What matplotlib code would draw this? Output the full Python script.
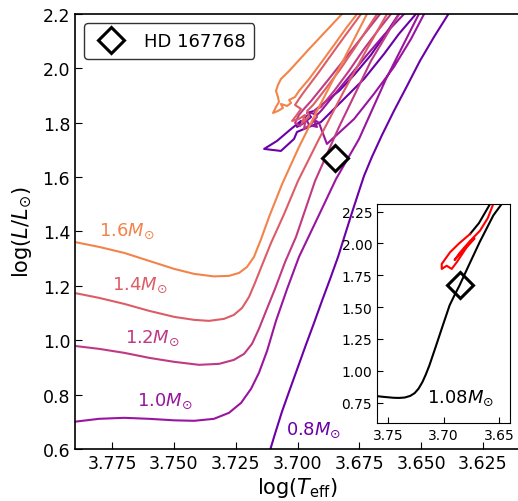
import numpy as np
import matplotlib.pyplot as plt
from matplotlib.lines import Line2D

# evolutionary tracks, log Teff / log L
# (RGB up past the top edge, then He-flash descent, clump, AGB back up)
masses = [0.8, 1.0, 1.2, 1.4, 1.6]

teff_08 = [3.7119, 3.7091, 3.7063, 3.7030, 3.6998, 3.6966, 3.6933, 3.6901, 3.6868, 3.6836, 3.6808,
           3.6780, 3.6755, 3.6731, 3.6699, 3.6658, 3.6610, 3.6557, 3.6505, 3.6448, 3.6387, 3.6347,
           3.6468, 3.6521, 3.6590, 3.6650, 3.6731, 3.6812, 3.6905, 3.7002, 3.7014, 3.7067, 3.7135,
           3.7083, 3.7026, 3.6986, 3.7002, 3.6974, 3.6945, 3.6961, 3.6933, 3.6893, 3.6832, 3.6771,
           3.6703, 3.6630, 3.6590, 3.6529]
logl_08 = [0.5713, 0.6559, 0.7368, 0.8213, 0.9022, 0.9831, 1.0640, 1.1449, 1.2257, 1.3066, 1.3875,
           1.4684, 1.5382, 1.6044, 1.6743, 1.7551, 1.8434, 1.9353, 2.0272, 2.1154, 2.2037, 2.2919,
           2.3287, 2.2000, 2.1265, 2.0529, 1.9610, 1.8875, 1.8029, 1.7662, 1.7404, 1.6963, 1.7037,
           1.7331, 1.7772, 1.8066, 1.7846, 1.7993, 1.8213, 1.8360, 1.8434, 1.8728, 1.9169, 1.9757,
           2.0493, 2.1449, 2.2000, 2.2919]

teff_10 = [3.7904, 3.7803, 3.7701, 3.7600, 3.7499, 3.7418, 3.7338, 3.7277, 3.7228, 3.7188, 3.7156,
           3.7123, 3.7087, 3.7042, 3.6994, 3.6913, 3.6844, 3.6751, 3.6642, 3.6509, 3.6476,
           3.6408, 3.6488, 3.6541, 3.6610, 3.6691, 3.6771, 3.6881, 3.6901, 3.6913, 3.6937, 3.6921,
           3.6953, 3.6970, 3.6945, 3.6921, 3.6905, 3.6852, 3.6792, 3.6719, 3.6650, 3.6569, 3.6488]
logl_10 = [0.7000, 0.7110, 0.7147, 0.7110, 0.7055, 0.7037, 0.7110, 0.7331, 0.7699, 0.8213, 0.8801,
           0.9610, 1.0713, 1.1890, 1.3066, 1.4610, 1.5934, 1.7404, 1.9610, 2.2000, 2.2919,
           2.3103, 2.2000, 2.1081, 2.0051, 1.9059, 1.8140, 1.7221, 1.7699, 1.7993, 1.8140, 1.7846,
           1.7919, 1.8213, 1.8360, 1.8287, 1.8434, 1.9022, 1.9684, 2.0493, 2.1228, 2.2000, 2.2919]

teff_12 = [3.7904, 3.7803, 3.7701, 3.7600, 3.7499, 3.7398, 3.7317, 3.7257, 3.7216, 3.7184, 3.7156,
           3.7127, 3.7091, 3.7050, 3.7006, 3.6929, 3.6832, 3.6703, 3.6589, 3.6569,
           3.6529, 3.6666, 3.6771, 3.6873, 3.6945, 3.6974, 3.6994, 3.7010, 3.6990, 3.6966, 3.6974,
           3.6945, 3.6921, 3.6933, 3.6905, 3.6852, 3.6792, 3.6731, 3.6670, 3.6622, 3.6549]
logl_12 = [0.9794, 0.9684, 0.9537, 0.9353, 0.9206, 0.9096, 0.9132, 0.9279, 0.9500, 0.9868, 1.0419,
           1.1081, 1.1890, 1.2882, 1.3801, 1.5860, 1.7846, 2.0272, 2.2000, 2.2919,
           2.3654, 2.2000, 2.0787, 1.9610, 1.8801, 1.8507, 1.8287, 1.7993, 1.7882, 1.8140, 1.7772,
           1.7956, 1.8213, 1.8434, 1.8581, 1.9169, 1.9904, 2.0713, 2.1449, 2.2000, 2.2919]

teff_14 = [3.7904, 3.7803, 3.7701, 3.7600, 3.7499, 3.7418, 3.7358, 3.7297, 3.7257, 3.7224, 3.7196,
           3.7172, 3.7143, 3.7107, 3.7054, 3.6998, 3.6913, 3.6812, 3.6719, 3.6638, 3.6622,
           3.6610, 3.6743, 3.6832, 3.6913, 3.6974, 3.6994, 3.7010, 3.6986, 3.7006, 3.7022, 3.6994,
           3.6970, 3.6982, 3.6953, 3.6961, 3.6937, 3.6893, 3.6832, 3.6771, 3.6678, 3.6610]
logl_14 = [1.1743, 1.1559, 1.1338, 1.1081, 1.0860, 1.0750, 1.0713, 1.0787, 1.0934, 1.1191, 1.1596,
           1.2110, 1.2772, 1.3581, 1.4647, 1.5860, 1.7404, 1.9169, 2.0713, 2.2000, 2.2919,
           2.3654, 2.2000, 2.0897, 1.9868, 1.9132, 1.8875, 1.8654, 1.8507, 1.8250, 1.8066, 1.8140,
           1.8287, 1.7993, 1.8213, 1.8434, 1.8654, 1.9169, 1.9904, 2.0713, 2.2000, 2.3103]

teff_16 = [3.7904, 3.7803, 3.7701, 3.7600, 3.7499, 3.7418, 3.7338, 3.7277, 3.7236, 3.7204, 3.7176,
           3.7147, 3.7115, 3.7062, 3.6994, 3.6913, 3.6812, 3.6719, 3.6678,
           3.6650, 3.6820, 3.6953, 3.7034, 3.7067, 3.7079, 3.7087, 3.7079, 3.7075, 3.7087, 3.7099,
           3.7079, 3.7059, 3.7067, 3.7042, 3.7026, 3.7034, 3.7010, 3.6994, 3.6953, 3.6905, 3.6852,
           3.6800, 3.6759, 3.6670]
logl_16 = [1.3618, 1.3434, 1.3213, 1.2919, 1.2625, 1.2441, 1.2349, 1.2368, 1.2478, 1.2699, 1.3066,
           1.3728, 1.4537, 1.5750, 1.7110, 1.8581, 2.0346, 2.2000, 2.2919,
           2.3654, 2.2000, 2.0713, 1.9904, 1.9610, 1.9390, 1.9169, 1.8949, 1.8765, 1.8581, 1.8360,
           1.8434, 1.8544, 1.8691, 1.8618, 1.8728, 1.8838, 1.8949, 1.9169, 1.9610, 2.0199, 2.0860,
           2.1522, 2.2000, 2.3103]

tracks_teff = [teff_08, teff_10, teff_12, teff_14, teff_16]
tracks_logl = [logl_08, logl_10, logl_12, logl_14, logl_16]
label_pos = [(3.7048, 0.674), (3.7649, 0.778), (3.7697, 1.011), (3.775, 1.207), (3.7803, 1.406)]

# 1.08 Msun track for the inset (black: MS/RGB + flash descent, red: clump/AGB)
teff_108 = [3.7610, 3.7550, 3.7500, 3.7450, 3.7400, 3.7350, 3.7300, 3.7260, 3.7225, 3.7190,
            3.7160, 3.7127, 3.7066, 3.7006, 3.6945, 3.6900, 3.6855, 3.6779, 3.6673, 3.6550,
            3.6475, 3.6400, 3.6520, 3.6580, 3.6680, 3.6761]
logl_108 = [0.802, 0.796, 0.792, 0.788, 0.787, 0.790, 0.803, 0.825, 0.860, 0.912,
            0.970, 1.043, 1.200, 1.357, 1.514, 1.595, 1.671, 1.815, 2.012, 2.221,
            2.310, 2.400, 2.400, 2.310, 2.160, 2.074]
teff_108_rc = [3.6761, 3.6860, 3.6941, 3.7016, 3.7016, 3.6971, 3.6926, 3.6881, 3.6791, 3.6720,
               3.6800, 3.6900, 3.6850, 3.6760, 3.6671, 3.6600, 3.6551, 3.6500]
logl_108_rc = [2.074, 2.000, 1.931, 1.839, 1.800, 1.825, 1.800, 1.852, 1.970, 2.040,
               1.970, 1.870, 1.930, 2.020, 2.100, 2.200, 2.310, 2.400]

star_teff = 3.685
star_logl = 1.67

colors = plt.cm.plasma([0.2, 0.325, 0.45, 0.575, 0.7])

fig = plt.figure(figsize=(5.18, 5.02), dpi=100)
ax = fig.add_axes([75/518, 52/502, 445/518, 435/502])

for m, tx, ly, c, pos in zip(masses, tracks_teff, tracks_logl, colors, label_pos):
    ax.plot(tx, ly, color=c, lw=1.5)
    ax.text(pos[0], pos[1], f'{m:.1f}' + r'$M_{\odot}$', color=c, fontsize=13,
            ha='left', va='center')

ax.plot(star_teff, star_logl, 'D', ms=13, mfc='white', mec='k', mew=2.2, zorder=5)

ax.set_xlim(3.79, 3.61)
ax.set_ylim(0.6, 2.2)
xt = np.arange(3.775, 3.62, -0.025)
ax.set_xticks(xt)
ax.set_xticklabels([f'{v:.3f}' for v in xt])
ax.set_yticks(np.arange(0.6, 2.21, 0.2))
ax.tick_params(direction='in', labelsize=12.5, length=5)
ax.set_xlabel(r'log($T_{\rm eff}$)', fontsize=15, labelpad=2)
ax.set_ylabel(r'log($L/L_{\odot}$)', fontsize=15, labelpad=6)
for s in ax.spines.values():
    s.set_linewidth(1.2)

h = Line2D([], [], ls='none', marker='D', ms=13, mfc='white', mec='k', mew=2.2)
leg = ax.legend([h], ['HD 167768'], loc='upper left', fontsize=13, frameon=True,
                edgecolor='k', fancybox=True, borderpad=0.5, handletextpad=0.8,
                bbox_to_anchor=(0.0, 1.0))
leg.get_frame().set_linewidth(1.0)

# inset
ax2 = fig.add_axes([377/518, 78/502, 133/518, 219/502])
ax2.plot(teff_108, logl_108, color='k', lw=1.5)
ax2.plot(teff_108_rc, logl_108_rc, color='red', lw=1.5)
ax2.plot(star_teff, star_logl, 'D', ms=13, mfc='none', mec='k', mew=2.2, zorder=5)
ax2.text(3.7145, 0.789, r'1.08$M_{\odot}$', fontsize=13, ha='left', va='center')
ax2.set_xlim(3.76, 3.64)
ax2.set_ylim(0.59, 2.31)
ax2.set_xticks([3.75, 3.70, 3.65])
ax2.set_yticks(np.arange(0.75, 2.26, 0.25))
ax2.tick_params(direction='in', labelsize=10, length=4)

fig.savefig('out.png', dpi=100)
